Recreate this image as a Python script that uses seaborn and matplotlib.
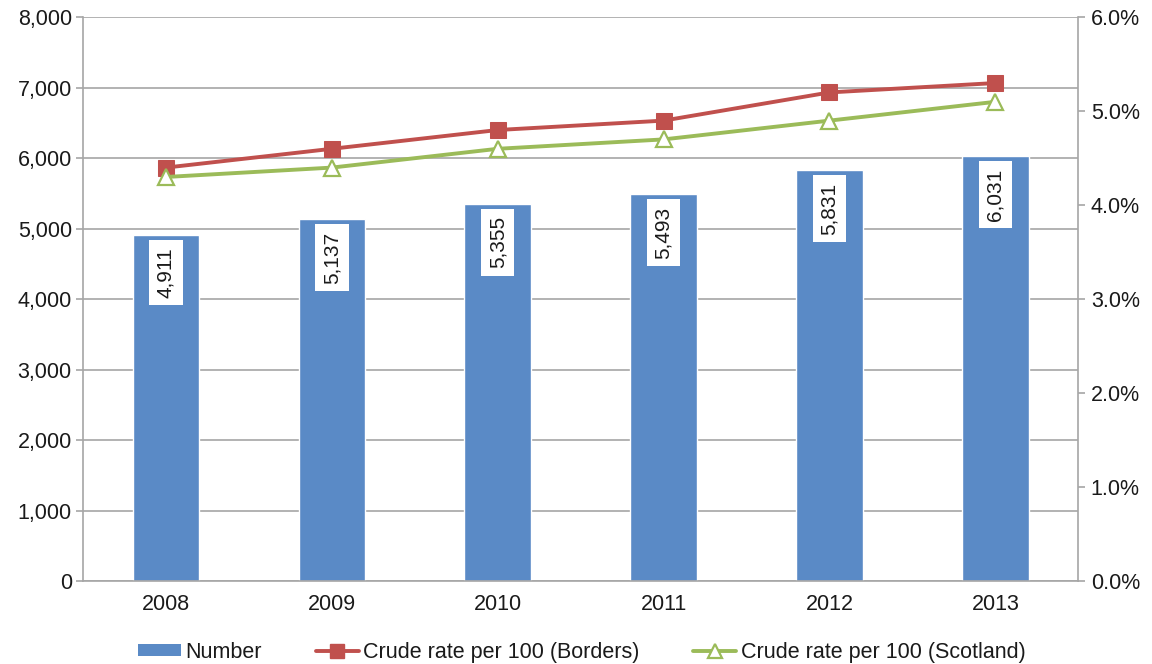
import numpy as np
import pandas as pd
import matplotlib
matplotlib.use("Agg")
import matplotlib.pyplot as plt
import matplotlib.ticker as mticker
from matplotlib.patches import Patch
from matplotlib.lines import Line2D
import seaborn as sns

# Data
years = ["2008", "2009", "2010", "2011", "2012", "2013"]
number = [4911, 5137, 5355, 5493, 5831, 6031]
rate_borders = [4.4, 4.6, 4.8, 4.9, 5.2, 5.3]
rate_scotland = [4.3, 4.4, 4.6, 4.7, 4.9, 5.1]

left_ticks = [0, 1000, 2000, 3000, 4000, 5000, 6000, 7000, 8000]
right_ticks = [0, 1, 2, 3, 4, 5, 6]

BLUE = "#5A8AC6"
RED = "#C0504D"
GREEN = "#9BBB59"
GRID = "#A6A6A6"
TEXT = "#1a1a1a"
FS = 15.5

sns.set_theme(style="white")
plt.rcParams["font.family"] = ["Liberation Sans", "DejaVu Sans"]

df = pd.DataFrame({"year": years, "number": number,
                   "borders": rate_borders, "scotland": rate_scotland})

fig = plt.figure(figsize=(11.52, 6.64), dpi=100)
ax = fig.add_axes([0.072, 0.125, 0.864, 0.849])

sns.barplot(data=df, x="year", y="number", color=BLUE, saturation=1,
            width=0.4, ax=ax, zorder=2)
ax.set_ylim(0, 8000)
ax.set_xlim(-0.5, len(years) - 0.5)
ax.set_yticks(left_ticks)
ax.yaxis.set_major_formatter(mticker.FuncFormatter(lambda v, p: f"{int(v):,}"))
ax.grid(axis="y", color=GRID, linewidth=1.2, zorder=0)
ax.set_axisbelow(True)
ax.set_xlabel("")
ax.set_ylabel("")

# value labels inside bars
for i, v in enumerate(number):
    ax.annotate(f"{v:,}", xy=(i, v), xytext=(0, -9), textcoords="offset points",
                rotation=90, ha="center", va="top", fontsize=FS - 0.5, color=TEXT,
                bbox=dict(boxstyle="square,pad=0.35", fc="white", ec="none"),
                zorder=5)

# category boundary ticks on x axis
ax.set_xticks(range(len(years)))
ax.set_xticklabels(years)
ax.tick_params(axis="x", length=0, pad=9, labelsize=FS, labelcolor=TEXT)
ax.set_xticks(np.arange(0.5, len(years) - 0.5, 1), minor=True)
ax.tick_params(axis="x", which="minor", length=5, color=GRID, width=1.2, direction="out")
ax.tick_params(axis="y", length=5, color=GRID, width=1.2, direction="out",
               labelsize=FS, labelcolor=TEXT, pad=3, left=True)

for s in ["top", "right"]:
    ax.spines[s].set_visible(False)
for s in ["left", "bottom"]:
    ax.spines[s].set_color(GRID)
    ax.spines[s].set_linewidth(1.2)

# secondary axis: rates
ax2 = ax.twinx()
xs = np.arange(len(years))
sns.lineplot(x=xs, y=rate_borders, ax=ax2, color=RED, linewidth=2.8,
             marker="s", markersize=12, markeredgecolor=RED, markerfacecolor=RED,
             zorder=4)
sns.lineplot(x=xs, y=rate_scotland, ax=ax2, color=GREEN, linewidth=2.8,
             marker="^", markersize=11, markeredgecolor=GREEN, markerfacecolor="white",
             markeredgewidth=1.6, zorder=4)
ax2.set_ylim(0, 6)
ax2.set_xlim(-0.5, len(years) - 0.5)
ax2.set_yticks(right_ticks)
ax2.yaxis.set_major_formatter(mticker.FuncFormatter(lambda v, p: f"{v:.1f}%"))
ax2.tick_params(axis="y", length=5, color=GRID, width=1.2, direction="out",
                labelsize=FS, labelcolor=TEXT, pad=4, right=True)
ax2.grid(False)
for s in ["top", "left", "bottom"]:
    ax2.spines[s].set_visible(False)
ax2.spines["right"].set_color(GRID)
ax2.spines["right"].set_linewidth(1.2)

handles = [
    Patch(facecolor=BLUE, edgecolor="none"),
    Line2D([0], [0], color=RED, linewidth=2.8, marker="s", markersize=10,
           markerfacecolor=RED, markeredgecolor=RED),
    Line2D([0], [0], color=GREEN, linewidth=2.8, marker="^", markersize=10,
           markerfacecolor="white", markeredgecolor=GREEN, markeredgewidth=1.6),
]
labels = ["Number", "Crude rate per 100 (Borders)", "Crude rate per 100 (Scotland)"]
fig.legend(handles, labels, loc="center", bbox_to_anchor=(0.505, 0.018), ncol=3,
           frameon=False, fontsize=FS, handlelength=2.0, handletextpad=0.2,
           columnspacing=2.5, handleheight=0.45, labelcolor=TEXT)

fig.savefig("out.png", dpi=100)
